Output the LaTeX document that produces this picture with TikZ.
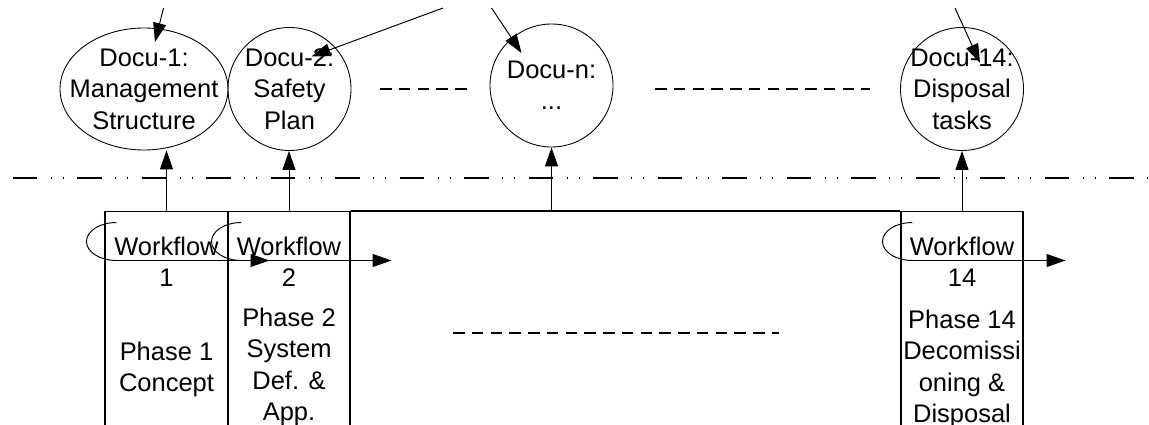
\documentclass[tikz,border=0pt]{standalone}
\usepackage{fontspec}
\setmainfont{Liberation Sans}
\usetikzlibrary{shapes.geometric, arrows.meta, positioning}

\begin{document}
\begin{tikzpicture}[
        docu/.style={ellipse, draw, line width=0.5pt, minimum width=2.46cm, minimum height=2.46cm, inner sep=0pt},
        doctext/.style={align=center, inner sep=0pt, font=\fontsize{14.5}{17.9}\selectfont},
        column/.style={rectangle, draw, line width=0.6pt, minimum width=2.44cm, minimum height=4.8cm, anchor=north},
        coltext/.style={align=center, inner sep=0pt, anchor=north, font=\fontsize{14.5}{17.9}\selectfont},
        arrow/.style={-{Triangle[length=0.38cm, width=0.26cm]}, line width=0.55pt},
        gap/.style={line width=0.6pt, dash pattern=on 0.23cm off 0.145cm},
        border/.style={line width=0.6pt, dash pattern=on 0.49cm off 0.27cm on 0.02cm off 0.22cm on 0.02cm off 0.27cm}
    ]
        \useasboundingbox (0,0) rectangle (22.98,8.48);
        \clip (0,0) rectangle (22.98,8.48);

        % Documents (top)
        \node[docu, minimum width=3.36cm, minimum height=2.44cm] (docu1) at (2.88,6.70) {};
        \node[doctext] (docu1txt) at (docu1) {Docu-1:\\Management\\Structure};
        \node[docu] (docu2) at (5.79,6.70) {};
        \node[doctext] (docu2txt) at (docu2) {Docu-2:\\Safety\\Plan};
        \node[docu] (docun) at (11.03,6.77) {};
        \node[doctext] (docuntxt) at (docun) {Docu-n:\\...};
        \node[docu] (docu14) at (19.24,6.70) {};
        \node[doctext] (docu14txt) at (docu14) {Docu-14:\\Disposal\\tasks};

        % Skipped documents
        \draw[gap] (7.60,6.70) -- (9.34,6.70);
        \draw[gap] (13.10,6.70) -- (17.40,6.70);

        % Boundary between documents and phases
        \draw[border] (0.254,4.92) -- (22.98,4.92);

        % Phase columns (bottom)
        \node[column, minimum width=2.46cm] (col1) at (3.33,4.26) {};
        \node[column] (col2) at (5.78,4.26) {};
        \node[column] (col14) at (19.24,4.26) {};
        \draw[line width=0.6pt] (col2.north east) -- (col14.north west);
        \draw[gap] (9.06,1.82) -- (15.58,1.82);

        \node[coltext] (wf1) at (3.33,3.75) {Workflow\\1};
        \node[coltext] (wf2) at (5.78,3.75) {Workflow\\2};
        \node[coltext] (wf14) at (19.24,3.75) {Workflow\\14};

        \node[coltext] (ph1) at (3.33,1.65) {Phase 1\\Concept};
        \node[coltext] (ph2) at (5.78,2.33) {Phase 2\\System\\Def. \&\\App.};
        \node[coltext] (ph14) at (19.24,2.29) {Phase 14\\Decomissi\\oning \&\\Disposal};

        % Workflow loops
        \coordinate (loop1) at ([shift={(0.24,-0.23)}]col1.north west);
        \coordinate (out1) at ([shift={(0.82,-0.99)}]col1.north east);
        \coordinate (loop2) at ([shift={(0.28,-0.23)}]col2.north west);
        \coordinate (out2) at ([shift={(0.82,-0.99)}]col2.north east);
        \coordinate (loop14) at ([shift={(0.24,-0.23)}]col14.north west);
        \coordinate (out14) at ([shift={(0.84,-0.99)}]col14.north east);
        \draw[arrow] (loop1) arc[start angle=90, end angle=270, x radius=0.6, y radius=0.38] -- (out1);
        \draw[arrow] (loop2) arc[start angle=90, end angle=270, x radius=0.6, y radius=0.38] -- (out2);
        \draw[arrow] (loop14) arc[start angle=90, end angle=270, x radius=0.6, y radius=0.38] -- (out14);

        % Columns feed their documents
        \coordinate (hub) at (11.03,4.26);
        \draw[arrow] (col1.north) -- (col1.north |- docu1.south);
        \draw[arrow] (col2.north) -- (col2.north |- docu2.south);
        \draw[arrow] (hub) -- (docun);
        \draw[arrow] (col14.north) -- (docu14);

        % Incoming references
        \coordinate (in1) at (3.27,8.32);
        \coordinate (in2) at (8.86,8.32);
        \coordinate (inn) at (9.83,8.32);
        \coordinate (in14) at (19.10,8.32);
        \draw[arrow] (in1) -- ([shift={(0.22,0.94)}]docu1.center);
        \draw[arrow] (in2) -- ([shift={(0.44,0.65)}]docu2.center);
        \draw[arrow] (inn) -- ([shift={(-0.60,0.65)}]docun.center);
        \draw[arrow] (in14) -- ([shift={(0.36,0.52)}]docu14.center);
\end{tikzpicture}
\end{document}
